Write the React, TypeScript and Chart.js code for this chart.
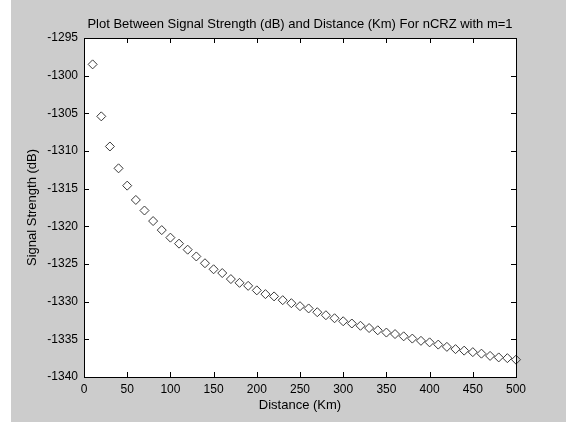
import React, { useEffect, useRef } from "react";
import { Chart, registerables } from "chart.js";

Chart.register(...registerables);

const chartTitle = "Plot Between Signal Strength (dB) and Distance (Km) For nCRZ with m=1";
const xAxisTitle = "Distance (Km)";
const yAxisTitle = "Signal Strength (dB)";

const distances = [
  10, 20, 30, 40, 50, 60, 70, 80, 90, 100,
  110, 120, 130, 140, 150, 160, 170, 180, 190, 200,
  210, 220, 230, 240, 250, 260, 270, 280, 290, 300,
  310, 320, 330, 340, 350, 360, 370, 380, 390, 400,
  410, 420, 430, 440, 450, 460, 470, 480, 490, 500,
];

const signalStrength = [
  -1298.5, -1305.4, -1309.4, -1312.3, -1314.6, -1316.5, -1317.9, -1319.3, -1320.5, -1321.5,
  -1322.3, -1323.1, -1324.0, -1324.9, -1325.7, -1326.2, -1327.0, -1327.5, -1327.9, -1328.5,
  -1329.0, -1329.3, -1329.8, -1330.2, -1330.6, -1330.9, -1331.4, -1331.8, -1332.2, -1332.6,
  -1332.9, -1333.2, -1333.5, -1333.8, -1334.1, -1334.3, -1334.6, -1334.9, -1335.2, -1335.4,
  -1335.7, -1336.0, -1336.3, -1336.5, -1336.7, -1336.9, -1337.2, -1337.4, -1337.5, -1337.7,
];

const xMin = 0;
const xMax = 500;
const xStep = 50;
const yMin = -1340;
const yMax = -1295;
const yStep = 5;

const FONT = "'Liberation Sans', Arial, sans-serif";

const matlabPlugin = {
  id: "matlabLook",
  beforeDraw(chart: any) {
    const { ctx, width, height, chartArea } = chart;
    ctx.save();
    ctx.fillStyle = "#ffffff";
    ctx.fillRect(0, 0, width, height);
    ctx.fillStyle = "#cccccc";
    ctx.fillRect(11, 0, width - 11, height);
    ctx.fillStyle = "#ffffff";
    ctx.fillRect(chartArea.left, chartArea.top, chartArea.right - chartArea.left, chartArea.bottom - chartArea.top);
    ctx.restore();
  },
  afterDraw(chart: any) {
    const { ctx, chartArea } = chart;
    const xs = chart.scales.x;
    const ys = chart.scales.y;
    const len = 5;
    ctx.save();
    ctx.strokeStyle = "#000000";
    ctx.lineWidth = 1;
    ctx.beginPath();
    xs.ticks.forEach((t: any) => {
      const px = Math.round(xs.getPixelForValue(t.value)) + 0.5;
      ctx.moveTo(px, chartArea.bottom);
      ctx.lineTo(px, chartArea.bottom - len);
      ctx.moveTo(px, chartArea.top);
      ctx.lineTo(px, chartArea.top + len);
    });
    ys.ticks.forEach((t: any) => {
      const py = Math.round(ys.getPixelForValue(t.value)) + 0.5;
      ctx.moveTo(chartArea.left, py);
      ctx.lineTo(chartArea.left + len, py);
      ctx.moveTo(chartArea.right, py);
      ctx.lineTo(chartArea.right - len, py);
    });
    ctx.stroke();
    ctx.strokeRect(
      Math.round(chartArea.left) + 0.5,
      Math.round(chartArea.top) + 0.5,
      Math.round(chartArea.right - chartArea.left),
      Math.round(chartArea.bottom - chartArea.top)
    );
    ctx.fillStyle = "#000000";
    ctx.font = `13px ${FONT}`;
    ctx.textAlign = "center";
    ctx.textBaseline = "middle";
    ctx.fillText(chartTitle, (chartArea.left + chartArea.right) / 2, 24);
    ctx.restore();
  },
};

export default function App() {
  const canvasRef = useRef<HTMLCanvasElement | null>(null);

  useEffect(() => {
    if (!canvasRef.current) return;
    const points = distances.map((d, i) => ({ x: d, y: signalStrength[i] }));
    const chart = new Chart(canvasRef.current, {
      type: "scatter",
      data: {
        datasets: [
          {
            data: points,
            pointStyle: "rectRot",
            pointRadius: 4.5,
            pointHoverRadius: 4.5,
            borderColor: "#3a3a3a",
            backgroundColor: "rgba(0,0,0,0)",
            borderWidth: 1,
            clip: false as any,
          },
        ],
      },
      options: {
        animation: false,
        responsive: false,
        devicePixelRatio: 1,
        layout: { padding: { left: 11, top: 38, right: 50, bottom: 0 } },
        plugins: {
          legend: { display: false },
          title: { display: false },
          tooltip: { enabled: false },
        },
        scales: {
          x: {
            type: "linear",
            min: xMin,
            max: xMax,
            grid: { display: false, drawTicks: false },
            border: { display: false },
            ticks: {
              stepSize: xStep,
              color: "#000000",
              font: { family: FONT, size: 12 },
              padding: 5,
              maxRotation: 0,
              callback: (v: any) => String(v),
            },
            title: {
              display: true,
              text: xAxisTitle,
              color: "#000000",
              font: { family: FONT, size: 13 },
              padding: { top: 0, bottom: 9 },
            },
            afterFit(scale: any) {
              scale.height = 45;
            },
          },
          y: {
            type: "linear",
            min: yMin,
            max: yMax,
            grid: { display: false, drawTicks: false },
            border: { display: false },
            ticks: {
              stepSize: yStep,
              color: "#000000",
              font: { family: FONT, size: 12 },
              padding: 6,
              callback: (v: any) => String(v),
            },
            title: {
              display: true,
              text: yAxisTitle,
              color: "#000000",
              font: { family: FONT, size: 13 },
              padding: { top: 14, bottom: 0 },
            },
            afterFit(scale: any) {
              scale.width = 73;
            },
          },
        },
      },
      plugins: [matlabPlugin],
    });
    return () => chart.destroy();
  }, []);

  return (
    <div style={{ position: "absolute", left: 0, top: 0, width: 566, height: 422 }}>
      <canvas ref={canvasRef} width={566} height={422} style={{ display: "block", width: 566, height: 422 }} />
    </div>
  );
}
